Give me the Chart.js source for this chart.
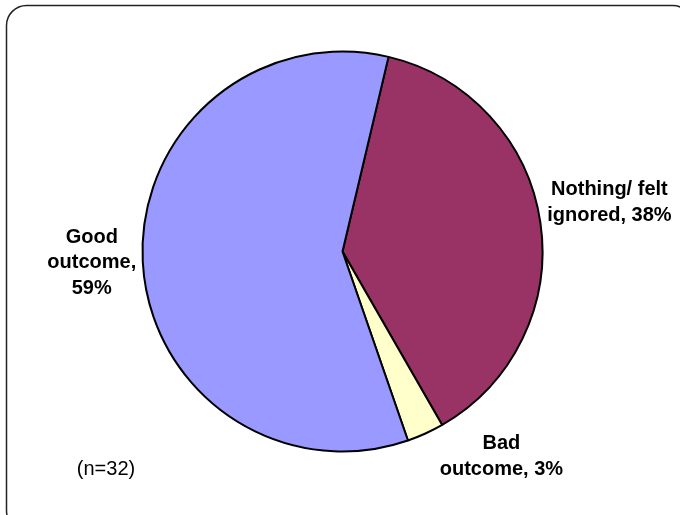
<!DOCTYPE html>
<html>
<head>
<meta charset="utf-8">
<script src="https://cdn.jsdelivr.net/npm/chart.js@4"></script>
<style>
  html, body { margin: 0; padding: 0; background: #fff; }
  canvas { display: block; }
</style>
</head>
<body>
<canvas id="outcomeChart" width="680" height="515"></canvas>
<script>
// values (percent of n=32)
var categories = ['Nothing/ felt ignored', 'Bad outcome', 'Good outcome'];
var percents = [38, 3, 59];
var sliceColours = ['#993366', '#FFFFCC', '#9999FF'];
var labelLines = [
	['Nothing/ felt', 'ignored, 38%'],
	['Bad', 'outcome, 3%'],
	['Good', 'outcome,', '59%']
];
var sampleNote = '(n=32)';

// where each label sits, relative to the slice edge at its middle angle
var labelNudge = [[69, -20], [76, 23], [-51, 1]];

var frame = {
	id: 'frame',
	beforeDraw: function(chart) {
		var c = chart.ctx;
		c.save();
		c.fillStyle = '#fff';
		c.fillRect(0, 0, chart.width, chart.height);
		c.strokeStyle = '#222';
		c.lineWidth = 1.5;
		c.beginPath();
		c.roundRect(6.5, 5.5, 686, 525, 20);
		c.stroke();
		c.restore();
	}
};

var sliceLabels = {
	id: 'sliceLabels',
	afterDatasetsDraw: function(chart) {
		var c = chart.ctx;
		var arcs = chart.getDatasetMeta(0).data;
		c.save();
		c.fillStyle = '#000';
		c.textAlign = 'center';
		c.textBaseline = 'middle';
		c.font = 'bold 20px "Liberation Sans", Arial, sans-serif';
		var lh = 25.5;
		arcs.forEach(function(arc, i) {
			var mid = (arc.startAngle + arc.endAngle) / 2;
			var ex = arc.x + Math.cos(mid) * arc.outerRadius;
			var ey = arc.y + Math.sin(mid) * arc.outerRadius;
			var cx = ex + labelNudge[i][0];
			var cy = ey + labelNudge[i][1];
			var lines = labelLines[i];
			var top = cy - (lines.length - 1) * lh / 2;
			lines.forEach(function(t, k) {
				c.fillText(t, cx, top + k * lh);
			});
		});
		c.font = '20px "Liberation Sans", Arial, sans-serif';
		c.fillText(sampleNote, 106, 469);
		c.restore();
	}
};

var ctx = document.getElementById('outcomeChart').getContext('2d');
var plot = new Chart(ctx, {
	type: 'pie',
	data: {
		labels: categories,
		datasets: [{
			data: percents,
			backgroundColor: sliceColours,
			borderColor: '#000',
			borderWidth: 2,
			radius: 200
		}]
	},
	options: {
		responsive: false,
		animation: false,
		rotation: 13.3,
		layout: { padding: { left: 141.5, top: 50.5, right: 136.5, bottom: 62.5 } },
		plugins: {
			legend: { display: false },
			tooltip: { enabled: false }
		}
	},
	plugins: [frame, sliceLabels]
});
</script>
</body>
</html>
